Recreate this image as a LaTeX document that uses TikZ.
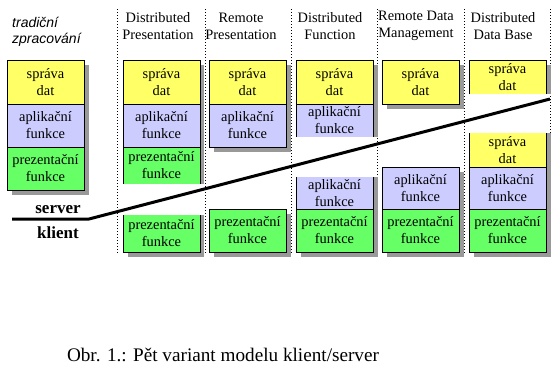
\documentclass[tikz,border=0pt]{standalone}
\usepackage{fontspec}
\setmainfont{Liberation Serif}
\newfontfamily\arialfont{Liberation Sans}
\usepackage{tikz}
\usetikzlibrary{positioning}

\definecolor{datYellow}{HTML}{FFFF66}
\definecolor{aplBlue}{HTML}{CCCCFF}
\definecolor{prezGreen}{HTML}{66FF66}
\definecolor{shadowGray}{HTML}{999999}

% one layer of a column: name, left x, top y, bottom y, fill, text
\newcommand{\layer}[6]{%
    \fill[#5] (#2,#3) rectangle (#2+77,#4);
    \node[layertext] (#1) at ({#2+38.5},{(#3+#4)/2}) {#6};
}
\newcommand{\spravadat}{správa\\dat}
\newcommand{\aplfunkce}{aplikační\\funkce}
\newcommand{\prezfunkce}{prezentační\\funkce}

\begin{document}
\begin{tikzpicture}[x=1pt, y=-1pt,
    layertext/.style={align=center, inner sep=0pt, font=\fontsize{14.4}{17}\selectfont},
    headtext/.style={align=center, inner sep=0pt, font=\fontsize{14.4}{17}\selectfont},
    frame/.style={draw=black, line width=1pt},
    shadow/.style={fill=shadowGray},
    divider/.style={line width=1pt, dash pattern=on 1pt off 2pt}]
    \useasboundingbox (0,0) rectangle (556,373);
    % column dividers
    \foreach \x in {117,205,291,377,464,550}
        \draw[divider] (\x,9) -- (\x,253);
    % headers
    \node[anchor=base west, font=\arialfont\itshape\fontsize{14}{16}\selectfont, inner sep=0pt] (headTrad) at (12,27) {tradiční};
    \node[anchor=base west, font=\arialfont\itshape\fontsize{14}{16}\selectfont, inner sep=0pt] (headZprac) at (12,43) {zpracování};
    \node[headtext] (headDP) at (158,26) {Distributed\\Presentation};
    \node[headtext] (headRP) at (241,26) {Remote\\Presentation};
    \node[headtext] (headDF) at (330,26) {Distributed\\Function};
    \node[headtext] (headRDM) at (416,26) {Remote Data\\Management};
    \node[headtext] (headDDB) at (503,26) {Distributed\\Data Base};

    % shadows
    \fill[shadow] (12,65) rectangle (89,195);
    \fill[shadow] (128,65) rectangle (204,184);
    \fill[shadow] (128,215) rectangle (204,257);
    \fill[shadow] (214,65) rectangle (291,152);
    \fill[shadow] (214,214) rectangle (291,257);
    \fill[shadow] (301,65) rectangle (378,137);
    \fill[shadow] (301,177) rectangle (378,257);
    \fill[shadow] (387,65) rectangle (464,109);
    \fill[shadow] (387,172) rectangle (464,257);
    \fill[shadow] (474,65) rectangle (551,94);
    \fill[shadow] (474,133) rectangle (551,257);

    % traditional processing
    \layer{tradDat}{7}{60}{104}{datYellow}{\spravadat}
    \layer{tradApl}{7}{104}{147}{aplBlue}{\aplfunkce}
    \layer{tradPrez}{7}{147}{190}{prezGreen}{\prezfunkce}
    \draw[frame] (7,60) rectangle (84,190);
    \draw[frame] (7,104) -- (84,104) (7,147) -- (84,147);

    % distributed presentation
    \layer{dpDat}{123}{60}{104}{datYellow}{\spravadat}
    \layer{dpApl}{123}{104}{147}{aplBlue}{\aplfunkce}
    \layer{dpPrezS}{123}{147}{184}{prezGreen}{\prezfunkce}
    \draw[frame] (123,184) -- (123,60) -- (200,60) -- (200,184);
    \draw[frame] (123,104) -- (200,104) (123,147) -- (200,147);
    \layer{dpPrezK}{123}{215}{252}{prezGreen}{\prezfunkce}
    \draw[frame] (123,215) -- (123,252) -- (200,252) -- (200,215);

    % remote presentation
    \layer{rpDat}{209}{60}{104}{datYellow}{\spravadat}
    \layer{rpApl}{209}{104}{147}{aplBlue}{\aplfunkce}
    \draw[frame] (209,60) rectangle (286,147);
    \draw[frame] (209,104) -- (286,104);
    \layer{rpPrez}{209}{209}{252}{prezGreen}{\prezfunkce}
    \draw[frame] (209,209) rectangle (286,252);

    % distributed function
    \layer{dfDat}{296}{60}{104}{datYellow}{\spravadat}
    \layer{dfAplS}{296}{104}{137}{aplBlue}{\aplfunkce}
    \draw[frame] (296,137) -- (296,60) -- (373,60) -- (373,137);
    \draw[frame] (296,104) -- (373,104);
    \layer{dfAplK}{296}{177}{209}{aplBlue}{\aplfunkce}
    \layer{dfPrez}{296}{209}{252}{prezGreen}{\prezfunkce}
    \draw[frame] (296,177) -- (296,252) -- (373,252) -- (373,177);
    \draw[frame] (296,209) -- (373,209);

    % remote data management
    \layer{rdmDat}{382}{60}{104}{datYellow}{\spravadat}
    \draw[frame] (382,60) rectangle (459,104);
    \layer{rdmApl}{382}{167}{209}{aplBlue}{\aplfunkce}
    \layer{rdmPrez}{382}{209}{252}{prezGreen}{\prezfunkce}
    \draw[frame] (382,167) rectangle (459,252);
    \draw[frame] (382,209) -- (459,209);

    % distributed data base
    \layer{ddbDatS}{469}{60}{94}{datYellow}{\spravadat}
    \draw[frame] (469,94) -- (469,60) -- (546,60) -- (546,94);
    \layer{ddbDatK}{469}{133}{167}{datYellow}{\spravadat}
    \layer{ddbApl}{469}{167}{209}{aplBlue}{\aplfunkce}
    \layer{ddbPrez}{469}{209}{252}{prezGreen}{\prezfunkce}
    \draw[frame] (469,133) -- (469,252) -- (546,252) -- (546,133);
    \draw[frame] (469,167) -- (546,167) (469,209) -- (546,209);

    % server / klient boundary
    \coordinate (cutStart) at (12,219);
    \coordinate (cutKnee) at (89,219);
    \coordinate (cutEnd) at (550,99);
    \draw[line width=3pt] (cutStart) -- (cutKnee) -- (cutEnd);
    \node[anchor=base, inner sep=0pt, font=\bfseries\fontsize{17}{20}\selectfont] (serverLbl) at (58,213) {server};
    \node[anchor=base, inner sep=0pt, font=\bfseries\fontsize{17}{20}\selectfont] (klientLbl) at (58,238) {klient};

    % caption
    \node[inner sep=0pt, font=\fontsize{19.2}{22}\selectfont] (caption) at (223,355) {Obr. 1.: Pět variant modelu klient/server};
\end{tikzpicture}
\end{document}
